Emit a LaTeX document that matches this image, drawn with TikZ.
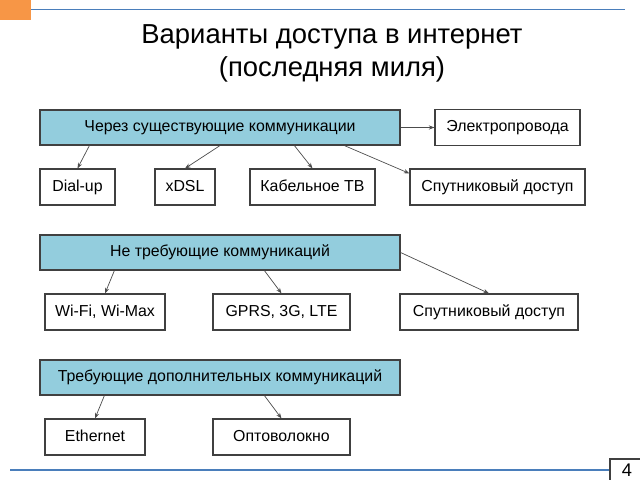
\documentclass[tikz,border=0pt]{standalone}
\usepackage{fontspec}
\setmainfont{Liberation Sans}
\usepackage{xcolor}
\usetikzlibrary{arrows.meta, calc, positioning}

\definecolor{boxblue}{HTML}{93CDDD}
\definecolor{lineblue}{HTML}{4A7EBB}
\definecolor{slideorange}{HTML}{F79646}

\tikzset{
  topbox/.style={draw=black!75, line width=0.8pt, fill=boxblue, minimum width=9cm, minimum height=0.875cm, inner sep=0pt, text height=1.5ex, text depth=0.4ex, font=\fontsize{11.3}{13}\selectfont},
  subbox/.style={draw=black!75, line width=0.8pt, fill=white, minimum height=0.9cm, inner sep=0pt, text height=1.5ex, text depth=0.4ex, font=\fontsize{11.3}{13}\selectfont},
  arr/.style={-{Stealth[length=4pt,width=3pt]}, draw=black!70, line width=0.5pt}
}

\begin{document}
\begin{tikzpicture}[x=0.025cm, y=-0.025cm]
\useasboundingbox (0,0) rectangle (640,480);

% slide frame
\fill[slideorange] (0,0) rectangle (31,20);
\draw[lineblue, line width=0.9pt] (31,9.5) -- (625,9.5);
\draw[lineblue, line width=0.9pt] (10,470) -- (610,470);
\draw[black!75, line width=0.8pt] (642,459) -- (610,459) -- (610,482);
\node (pagenum) at (627,470) {\fontsize{13}{15}\selectfont 4};

% title
\node[anchor=base] (title1) at (332,43.5) {\fontsize{19.5}{23}\selectfont Варианты доступа в интернет};
\node[anchor=base] (title2) at (332,76.5) {\fontsize{19.5}{23}\selectfont (последняя миля)};

% existing lines
\node[topbox] (existing) at (220,127.5) {Через существующие коммуникации};
\node[subbox, minimum width=3.625cm] (power) at (507.5,127.5) {Электропровода};
\node[subbox, minimum width=1.875cm] (dialup) at (77.5,187) {Dial-up};
\node[subbox, minimum width=1.5cm] (xdsl) at (185,187) {xDSL};
\node[subbox, minimum width=3.125cm] (cabletv) at (312.5,187) {Кабельное ТВ};
\node[subbox, minimum width=4.375cm] (sat1) at (497.5,187) {Спутниковый доступ};

\draw[arr] ($(existing.south west)+(50,0)$) -- (dialup.north);
\draw[arr] (existing.south) -- (xdsl.north);
\draw[arr] ($(existing.south west)+(255,0)$) -- (cabletv.north);
\draw[arr] (existing.east) -- (power.west);
\draw[arr] ($(existing.south west)+(305,0)$) -- ($(sat1.north west)+(0,5)$);

% wireless
\node[topbox] (wireless) at (220,252.5) {Не требующие коммуникаций};
\node[subbox, minimum width=3cm] (wifi) at (105,312) {Wi-Fi, Wi-Max};
\node[subbox, minimum width=3.425cm] (gprs) at (281.5,312) {GPRS, 3G, LTE};
\node[subbox, minimum width=4.45cm] (sat2) at (489,312) {Спутниковый доступ};

\draw[arr] ($(wireless.south west)+(75,0)$) -- (wifi.north);
\draw[arr] ($(wireless.south west)+(225,0)$) -- (gprs.north);
\draw[arr] (wireless.east) -- (sat2.north);

% new lines
\node[topbox] (newlines) at (220,377.5) {Требующие дополнительных коммуникаций};
\node[subbox, minimum width=2.5cm] (ethernet) at (95,437) {Ethernet};
\node[subbox, minimum width=3.425cm] (fiber) at (281.5,437) {Оптоволокно};

\draw[arr] ($(newlines.south west)+(65,0)$) -- (ethernet.north);
\draw[arr] ($(newlines.south west)+(225,0)$) -- (fiber.north);
\end{tikzpicture}
\end{document}
